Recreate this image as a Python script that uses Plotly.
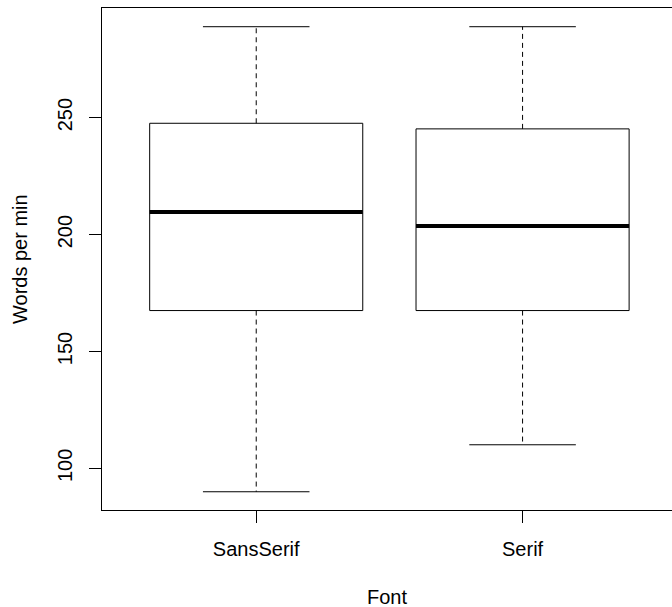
import plotly.graph_objects as go

# Data
fonts = ["SansSerif", "Serif"]
whisker_low = [90.0, 110.1]
q1 = [167.5, 167.5]
median = [209.7, 203.7]
q3 = [247.6, 245.2]
whisker_high = [288.9, 288.9]

y_ticks = [100, 150, 200, 250]

BOX_HALF = 0.4
CAP_HALF = 0.2
FONT = "Liberation Sans, Arial, Helvetica, sans-serif"
FS = 20

fig = go.Figure()
for i, name in enumerate(fonts):
    pos = i + 1
    lo, a, m, b, hi = whisker_low[i], q1[i], median[i], q3[i], whisker_high[i]
    # whiskers (dashed)
    fig.add_trace(go.Scatter(
        x=[pos, pos, None, pos, pos], y=[b, hi, None, a, lo], mode="lines",
        line=dict(color="black", width=1, dash="5px,4px"), hoverinfo="skip"))
    # staples
    fig.add_trace(go.Scatter(
        x=[pos - CAP_HALF, pos + CAP_HALF, None, pos - CAP_HALF, pos + CAP_HALF],
        y=[hi, hi, None, lo, lo], mode="lines",
        line=dict(color="black", width=1), hoverinfo="skip"))
    # box
    fig.add_trace(go.Scatter(
        x=[pos - BOX_HALF, pos + BOX_HALF, pos + BOX_HALF, pos - BOX_HALF, pos - BOX_HALF],
        y=[a, a, b, b, a], mode="lines",
        line=dict(color="black", width=1), hoverinfo="skip"))
    # median
    fig.add_trace(go.Scatter(
        x=[pos - BOX_HALF, pos + BOX_HALF], y=[m, m], mode="lines",
        line=dict(color="black", width=4), hoverinfo="skip"))

fig.update_layout(
    width=672, height=607,
    margin=dict(l=102, r=0, t=8, b=97),
    paper_bgcolor="white", plot_bgcolor="white",
    showlegend=False,
    font=dict(family=FONT, size=FS, color="black"),
)
fig.update_xaxes(
    range=[0.421, 2.561], tickmode="array", tickvals=[1, 2], ticktext=fonts,
    showgrid=False, zeroline=False, showline=True, linecolor="black", linewidth=1,
    mirror=True, ticks="outside", ticklen=12, tickcolor="black", tickwidth=1,
    ticklabelstandoff=9,
)
fig.update_yaxes(
    range=[82.2, 296.9], tickmode="array", tickvals=y_ticks,
    ticktext=[str(v) for v in y_ticks], tickangle=-90,
    showgrid=False, zeroline=False, showline=True, linecolor="black", linewidth=1,
    ticks="outside", ticklen=12, tickcolor="black", tickwidth=1,
    ticklabelstandoff=9,
)
fig.add_annotation(text="Font", xref="paper", yref="paper", x=0.5, y=(510 - 597) / 502,
                   xanchor="center", yanchor="middle", showarrow=False,
                   font=dict(family=FONT, size=FS, color="black"))
fig.add_annotation(text="Words per min", xref="paper", yref="paper", x=(20 - 102) / 570, y=0.5,
                   xanchor="center", yanchor="middle", textangle=-90, showarrow=False,
                   font=dict(family=FONT, size=FS, color="black"))

fig.write_html(
    "out.html",
    config={"displayModeBar": False},
    post_script="document.body.style.margin='0';document.body.style.overflow='hidden';",
)
